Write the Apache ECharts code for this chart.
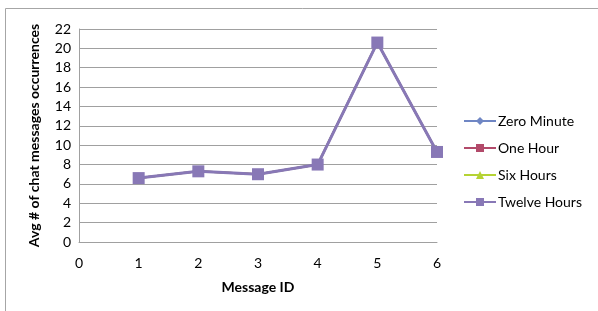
<!DOCTYPE html>
<html>
<head>
<meta charset="utf-8">
<script src="https://cdn.jsdelivr.net/npm/echarts@6/dist/echarts.min.js"></script>
<style>
  html, body { margin: 0; padding: 0; background: #fff; }
  #chart { width: 598px; height: 311px; }
</style>
</head>
<body>
<div id="chart"></div>
<script>
// message ids on the x axis
const messageIds = [1, 2, 3, 4, 5, 6];
// the four series sit on top of each other in the picture
const zeroMinute = [6.6, 7.3, 7.0, 8.0, 20.6, 9.3];
const oneHour = [6.6, 7.3, 7.0, 8.0, 20.6, 9.3];
const sixHours = [6.6, 7.3, 7.0, 8.0, 20.6, 9.3];
const twelveHours = [6.6, 7.3, 7.0, 8.0, 20.6, 9.3];
const seriesNames = ['Zero Minute', 'One Hour', 'Six Hours', 'Twelve Hours'];

const font = 'Lato, "Open Sans", sans-serif';

function pairs (ys) {
  return messageIds.map((x, i) => [x, ys[i]]);
}

function makeSeries (name, ys, color, symbol, size, width) {
  return {
    name: name,
    type: 'line',
    data: pairs(ys),
    symbol: symbol,
    symbolSize: size,
    lineStyle: { color: color, width: width },
    itemStyle: { color: color },
    emphasis: { disabled: true }
  };
}

let myChart = echarts.init(document.getElementById('chart'));
let option = {
  animation: false,
  textStyle: { fontFamily: font },
  graphic: [
    {
      type: 'rect',
      shape: { x: 5.5, y: 8.5, width: 620, height: 340 },
      style: { fill: 'none', stroke: '#a6a6a6', lineWidth: 1 },
      silent: true
    }
  ],
  grid: { left: 79, right: 161, top: 29, bottom: 69 },
  legend: {
    orient: 'vertical',
    left: 458,
    top: 109,
    itemWidth: 32,
    itemHeight: 10,
    itemGap: 13,
    textStyle: { fontFamily: font, fontSize: 14, color: '#000', padding: [0, 0, 0, -3] },
    data: seriesNames
  },
  xAxis: {
    type: 'value',
    min: 0,
    max: 6,
    interval: 1,
    name: 'Message ID',
    nameLocation: 'middle',
    nameGap: 38,
    nameTextStyle: { fontFamily: font, fontSize: 14, fontWeight: 'bold', color: '#000' },
    axisLine: { show: true, lineStyle: { color: '#a0a0a0' } },
    axisTick: { show: false },
    splitLine: { show: false },
    axisLabel: { fontSize: 14, color: '#000', margin: 14 }
  },
  yAxis: {
    type: 'value',
    min: 0,
    max: 22,
    interval: 2,
    name: 'Avg # of chat messages occurrences',
    nameLocation: 'middle',
    nameGap: 38,
    nameTextStyle: { fontFamily: font, fontSize: 14, fontWeight: 'bold', color: '#000' },
    axisLine: { show: true, lineStyle: { color: '#a0a0a0' } },
    axisTick: { show: false },
    splitLine: { show: true, lineStyle: { color: '#a0a0a0', width: 1 } },
    axisLabel: { fontSize: 14, color: '#000', margin: 8 }
  },
  series: [
    makeSeries(seriesNames[0], zeroMinute, '#6f86c4', 'diamond', 10, 2),
    makeSeries(seriesNames[1], oneHour, '#b24a6a', 'rect', 9, 2),
    makeSeries(seriesNames[2], sixHours, '#b5d334', 'triangle', 9, 2),
    makeSeries(seriesNames[3], twelveHours, '#8878b6', 'rect', 12, 3)
  ]
};
myChart.setOption(option);
</script>
</body>
</html>
